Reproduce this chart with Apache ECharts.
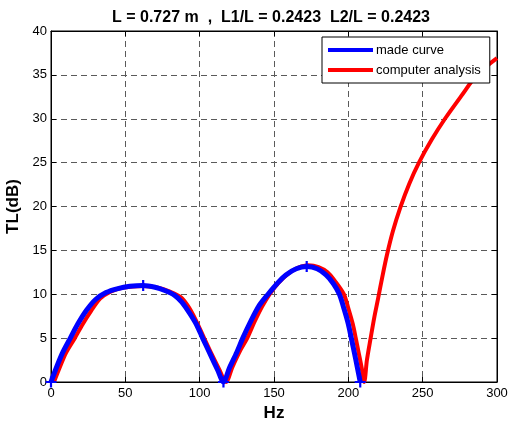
<!DOCTYPE html>
<html>
<head>
<meta charset="utf-8">
<script src="https://cdn.jsdelivr.net/npm/echarts@6/dist/echarts.min.js"></script>
<style>
  html, body { margin: 0; padding: 0; background: #fff; }
  #chart { width: 509px; height: 421px; }
</style>
</head>
<body>
<div id="chart"></div>
<script>
// values
const titleText = 'L = 0.727 m  ,  L1/L = 0.2423  L2/L = 0.2423'
const seriesNames = ['made curve', 'computer analysis']

const madeFreq = [0, 4, 8, 13, 18, 24, 30, 37, 45, 53, 62, 70, 77, 83, 88, 93, 98, 102, 107, 112, 116,
  120, 125, 129, 134, 140, 146, 152, 158, 165, 172, 179, 185, 190, 194, 197, 200, 202, 204, 206, 208]
const madeTL = [0, 1.8, 3.4, 5, 6.6, 8.2, 9.4, 10.2, 10.65, 10.9, 11.0, 10.8, 10.4, 9.9, 9.1, 7.9, 6.5, 5.0, 3.2, 1.4, 0,
  1.6, 3.4, 5, 6.8, 8.7, 10, 11.2, 12.2, 12.9, 13.15, 12.9, 12.2, 11.2, 10, 8.4, 6.6, 5, 3.4, 1.7, 0]
const markedFreq = [0, 62, 116, 172, 208]

const calcFreq = [2, 6, 10, 16, 21, 27, 33, 40, 48, 62, 72, 80, 87, 92, 97, 103, 108, 113, 117.7,
  122, 127, 132, 137, 142, 147, 153, 160, 166, 173, 180, 186, 191, 197, 200, 203, 205, 207, 209, 210.7,
  212.5, 215, 217.5, 220, 223, 226, 230, 235, 241, 247.5, 256, 265, 276, 286.5, 300]
const calcTL = [0, 1.7, 3.3, 5, 6.5, 8.1, 9.5, 10.3, 10.75, 10.95, 10.75, 10.3, 9.7, 8.7, 7.2, 5, 3.2, 1.5, 0,
  1.7, 3.5, 5, 6.9, 8.6, 10, 11.3, 12.4, 13, 13.3, 13.1, 12.5, 11.5, 10, 8.4, 6.6, 5, 3.3, 1.6, 0,
  2.5, 5, 7.4, 9.5, 12.1, 14.5, 17.2, 19.9, 22.6, 25, 27.6, 30, 32.6, 35, 36.9]

const xMin = 0, xMax = 300, xStep = 50
const yMin = 0, yMax = 40, yStep = 5

const plus = 'path://M4,0 L6,0 L6,4 L10,4 L10,6 L6,6 L6,10 L4,10 L4,6 L0,6 L0,4 L4,4 Z'

const chart = echarts.init(document.getElementById('chart'))

const madeData = madeFreq.map((f, i) => {
  const item = { value: [f, madeTL[i]] }
  if (markedFreq.indexOf(f) >= 0) {
    item.symbol = plus
    item.symbolSize = 11
  }
  return item
})
const calcData = calcFreq.map((f, i) => [f, calcTL[i]])

const font = 'Liberation Sans, Arial, sans-serif'
const gridLine = {
  show: true,
  lineStyle: { color: '#5a5a5a', type: [6, 4], width: 1 }
}
const tick = { show: true, inside: true, length: 5, lineStyle: { color: '#000' } }
const axisFont = { color: '#000', fontSize: 13, fontFamily: font }

const option = {
  animation: false,
  backgroundColor: '#fff',
  title: {
    text: titleText,
    left: 266,
    top: 5,
    textAlign: 'center',
    textStyle: { fontSize: 16, fontWeight: 'bold', color: '#000', fontFamily: font }
  },
  legend: {
    data: seriesNames,
    orient: 'vertical',
    left: 322,
    top: 37,
    padding: [6, 9, 6, 6],
    itemGap: 6,
    itemWidth: 45,
    itemHeight: 4,
    icon: 'rect',
    borderColor: '#000',
    borderWidth: 1,
    borderRadius: 0,
    backgroundColor: '#fff',
    z: 10,
    textStyle: { fontSize: 13, lineHeight: 14, color: '#000', fontFamily: font, padding: [0, 0, 0, -2] }
  },
  grid: {
    left: 51, right: 12, top: 31, bottom: 39,
    outerBoundsMode: 'none',
    containLabel: false,
    show: true,
    borderColor: '#000',
    borderWidth: 1,
    backgroundColor: '#fff'
  },
  xAxis: [
    {
      type: 'value',
      min: xMin, max: xMax, interval: xStep,
      name: 'Hz',
      nameLocation: 'middle',
      nameGap: 21,
      nameTextStyle: { fontSize: 17, fontWeight: 'bold', color: '#000', fontFamily: font },
      axisLine: { show: true, onZero: false, lineStyle: { color: '#000' } },
      axisTick: tick,
      axisLabel: Object.assign({ margin: 5 }, axisFont),
      splitLine: gridLine
    },
    {
      type: 'value',
      position: 'top',
      min: xMin, max: xMax, interval: xStep,
      axisLine: { show: true, onZero: false, lineStyle: { color: '#000' } },
      axisTick: tick,
      axisLabel: { show: false },
      splitLine: { show: false }
    }
  ],
  yAxis: [
    {
      type: 'value',
      min: yMin, max: yMax, interval: yStep,
      name: 'TL(dB)',
      nameLocation: 'middle',
      nameGap: 28,
      nameTextStyle: { fontSize: 17, fontWeight: 'bold', color: '#000', fontFamily: font },
      axisLine: { show: true, onZero: false, lineStyle: { color: '#000' } },
      axisTick: tick,
      axisLabel: Object.assign({ margin: 4 }, axisFont),
      splitLine: gridLine
    },
    {
      type: 'value',
      position: 'right',
      min: yMin, max: yMax, interval: yStep,
      axisLine: { show: true, onZero: false, lineStyle: { color: '#000' } },
      axisTick: tick,
      axisLabel: { show: false },
      splitLine: { show: false }
    }
  ],
  series: [
    {
      name: seriesNames[0],
      type: 'line',
      z: 4,
      smooth: 0.3,
      symbol: 'none',
      showSymbol: true,
      color: '#0000ff',
      lineStyle: { color: '#0000ff', width: 5 },
      itemStyle: { color: '#0000ff' },
      data: madeData
    },
    {
      name: seriesNames[1],
      type: 'line',
      z: 3,
      smooth: 0.3,
      symbol: 'none',
      color: '#ff0000',
      lineStyle: { color: '#ff0000', width: 4 },
      data: calcData
    }
  ]
}

chart.setOption(option)
</script>
</body>
</html>
